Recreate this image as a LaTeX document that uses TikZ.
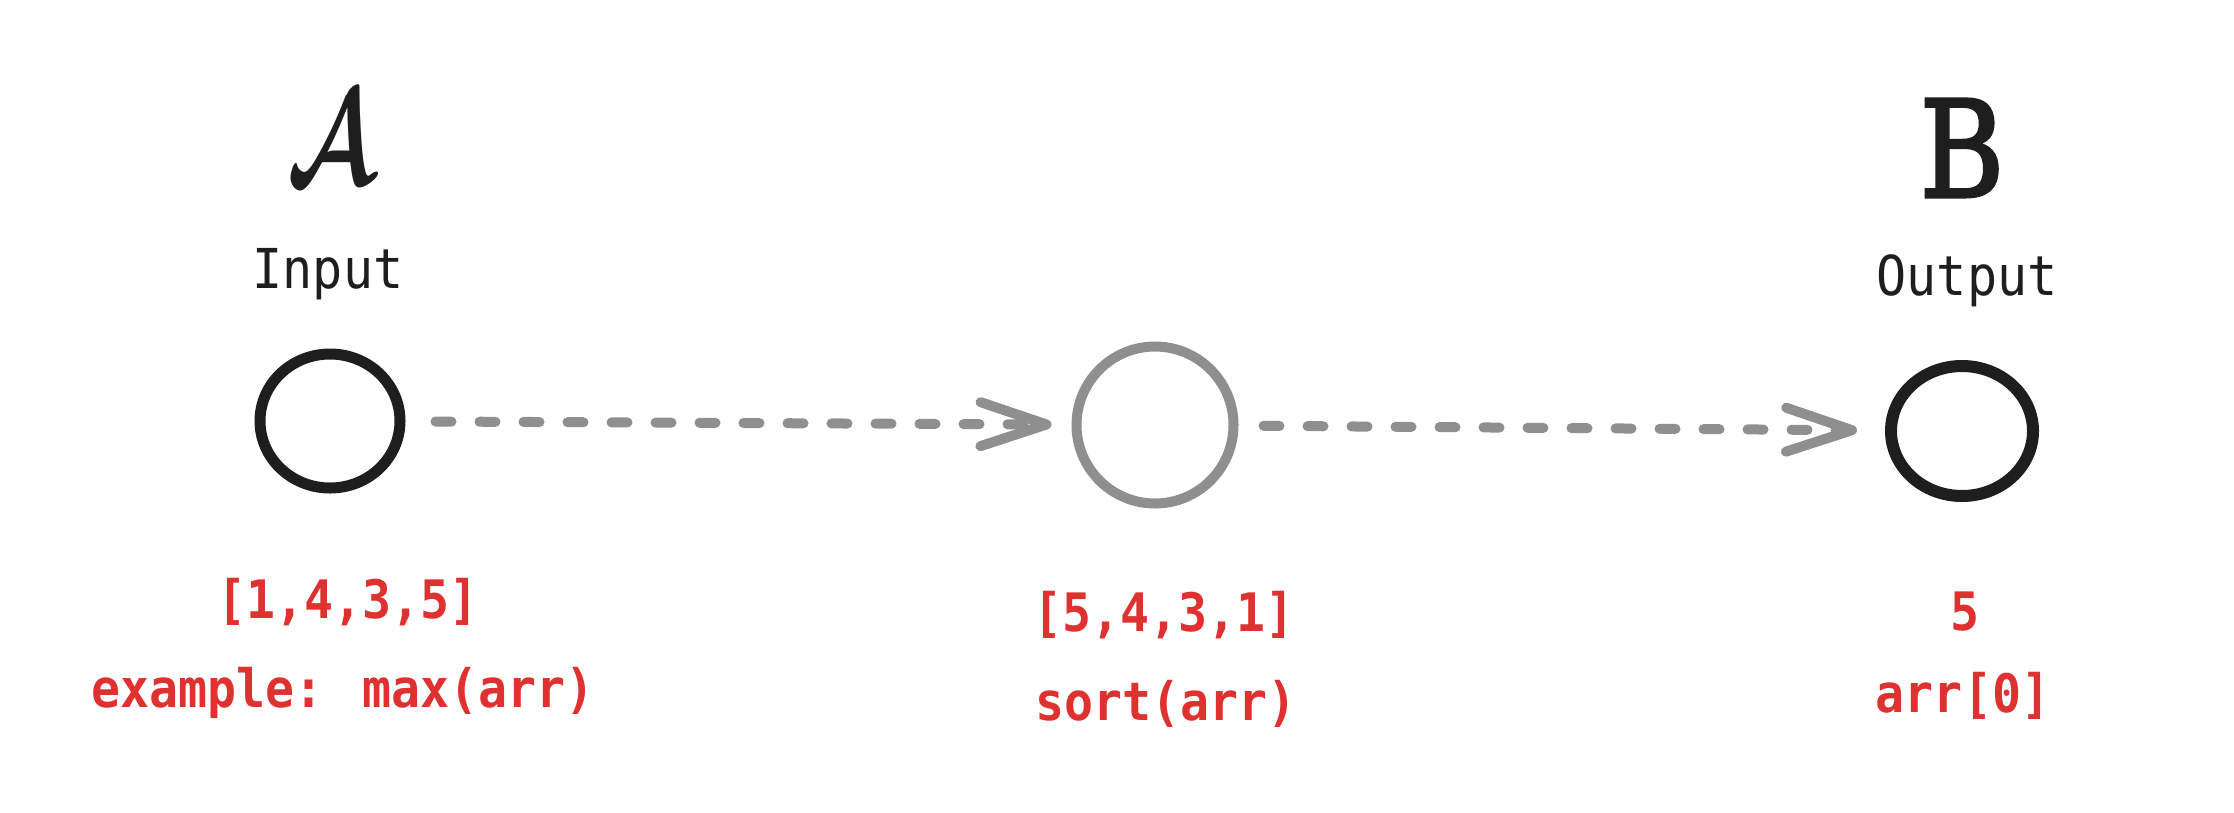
\documentclass[tikz,border=0pt]{standalone}
\usepackage{fontspec}
\usepackage{bm}
\usetikzlibrary{arrows.meta,shapes.geometric}
\newfontfamily\labelmono[FakeStretch=0.91]{DejaVu Sans Mono}
\newfontfamily\handserif[FakeBold=2.5]{DejaVu Serif}
\definecolor{ink}{HTML}{1E1E1E}
\definecolor{redtxt}{HTML}{E03131}
\definecolor{dashgray}{HTML}{8F8F8F}
\begin{document}
\begin{tikzpicture}[x=1pt,y=-1pt,
  ring/.style={ellipse, inner sep=0pt},
  blackring/.style={ring, draw=ink, line width=11pt},
  grayring/.style={ring, draw=dashgray, line width=10pt},
  blacklabel/.style={anchor=base, inner sep=0pt, text=ink, font=\labelmono\fontsize{55}{62}\selectfont},
  redlabel/.style={anchor=base, inner sep=0pt, text=redtxt, font=\labelmono\bfseries\fontsize{53}{60}\selectfont},
  flow/.style={draw=dashgray, line width=10pt, line cap=round, dash pattern=on 16pt off 28pt,
    -{Straight Barb[length=66pt,width=44pt,line cap=round,line join=round]}}
]
\useasboundingbox[fill=white] (0,0) rectangle (2234,812);

% titles
\node[inner sep=0pt, text=ink, xscale=9.4, yscale=13.4] (letA) at (331,139) {$\bm{\mathcal{A}}$};
\node[blacklabel] (inA) at (328,288) {Input};
\node[inner sep=0pt, text=ink, xscale=0.86, font=\handserif\fontsize{134}{140}\selectfont] (letB) at (1962,148) {B};
\node[blacklabel] (outB) at (1967,295) {Output};

% rings
\node[blackring, minimum width=140pt, minimum height=134pt] (ca) at (330,421) {};
\node[grayring, minimum width=157pt, minimum height=157pt] (cm) at (1155,425) {};
\node[blackring, line width=12pt, minimum width=142pt, minimum height=130pt] (cb) at (1962,431) {};

% connectors
\draw[flow, shorten <=30pt, shorten >=20pt] (ca) -- (cm);
\draw[flow, shorten <=25pt, shorten >=28pt] (cm) -- (cb);

% red labels
\node[redlabel] (va) at (348,618) {[1,4,3,5]};
\node[redlabel] (fa) at (343,707) {example: max(arr)};
\node[redlabel] (vm) at (1164,631) {[5,4,3,1]};
\node[redlabel] (fm) at (1166,720) {sort(arr)};
\node[redlabel] (vb) at (1965,630) {5};
\node[redlabel] (fb) at (1963,712) {arr[0]};
\end{tikzpicture}
\end{document}
